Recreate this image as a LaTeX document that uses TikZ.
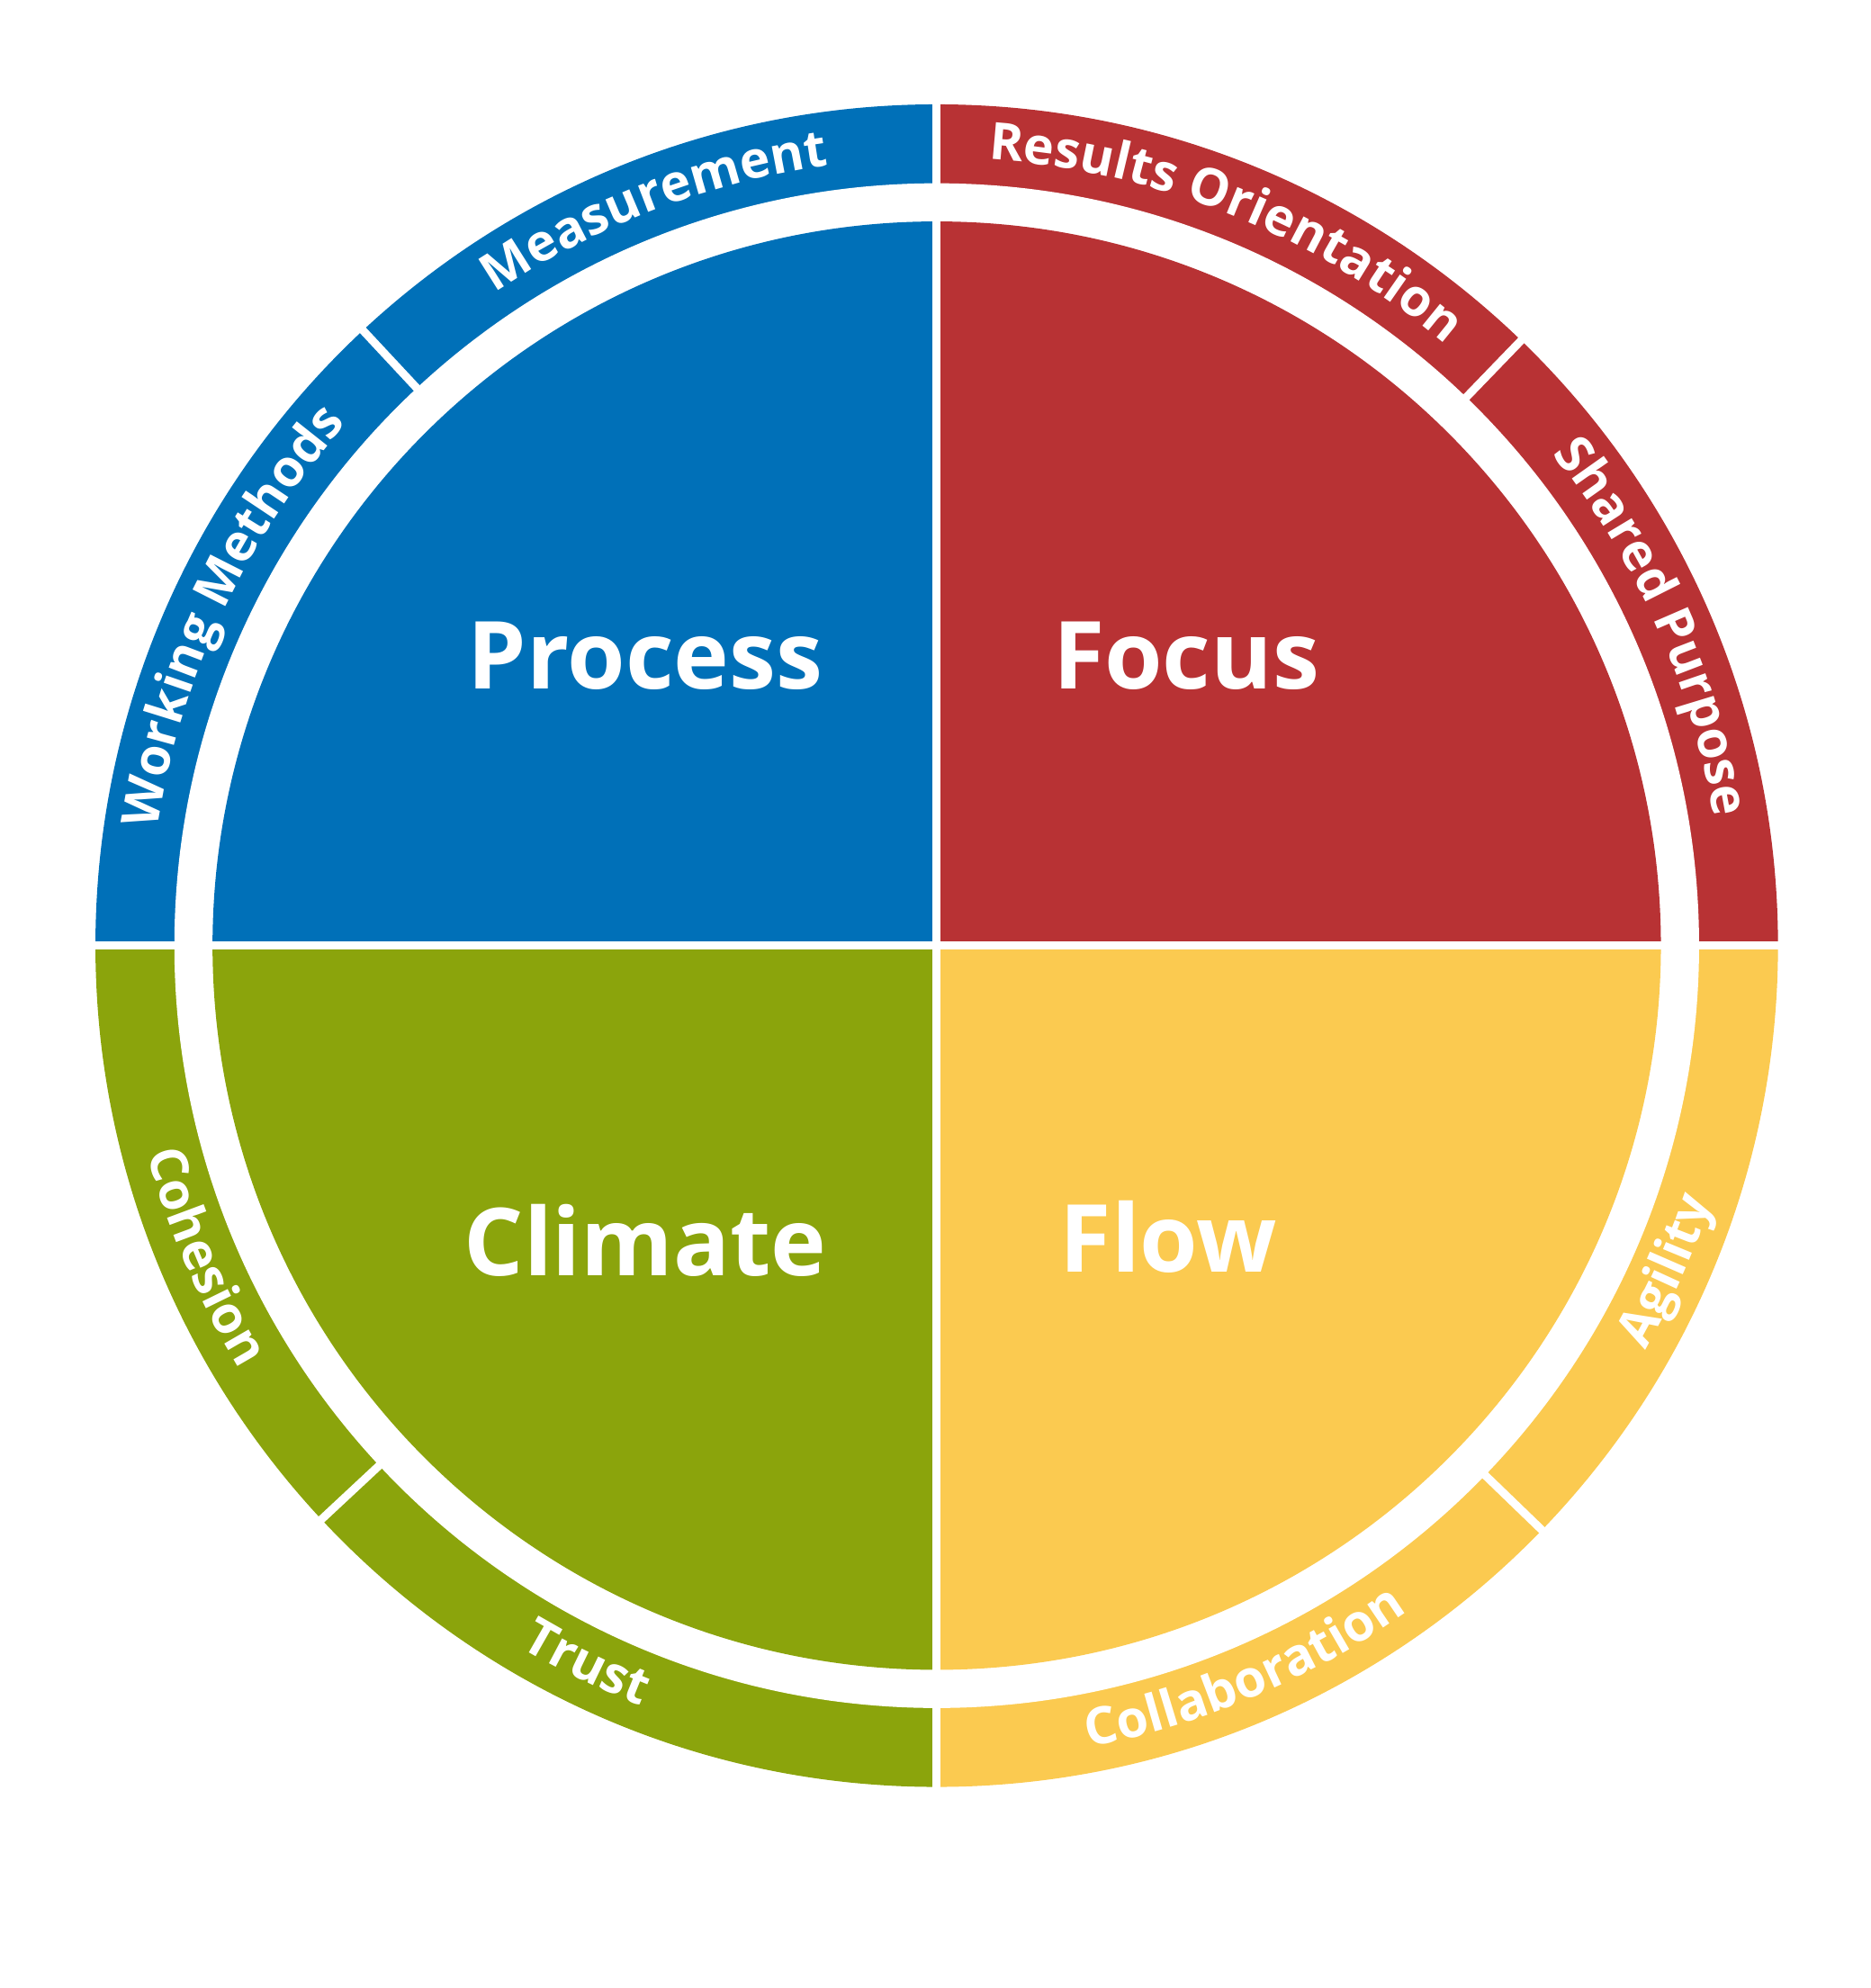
\documentclass[tikz,border=0pt]{standalone}
\usepackage{fontspec}
\setmainfont{Open Sans}
\usetikzlibrary{decorations.text}
\definecolor{cblue}{HTML}{0070B8}
\definecolor{cred}{HTML}{B83234}
\definecolor{cgreen}{HTML}{8BA40C}
\definecolor{cyellow}{HTML}{FBCA50}
\newcommand{\lblfont}{\bfseries\fontsize{23}{23}\selectfont}
\tikzset{
 sep/.style={white,line width=3.6pt},
 toplbl/.style={decorate,decoration={text along path,text align=center,text color=white,text={|\lblfont|#1}}},
 big/.style={text=white,font=\bfseries\fontsize{42}{42}\selectfont}
}
\begin{document}
\begin{tikzpicture}[x=0.02cm,y=0.02cm]
\useasboundingbox (-736,-819) rectangle (734,743);
\coordinate (C) at (0,0);
\fill[cblue] (C) -- (180:661) arc[start angle=180,end angle=90,radius=661] -- cycle;
\fill[cred] (C) -- (90:661) arc[start angle=90,end angle=0,radius=661] -- cycle;
\fill[cyellow] (C) -- (0:661) arc[start angle=0,end angle=-90,radius=661] -- cycle;
\fill[cgreen] (C) -- (270:661) arc[start angle=270,end angle=180,radius=661] -- cycle;
\fill[white] (C) circle[radius=599];
\fill[cblue] (C) -- (180:569) arc[start angle=180,end angle=90,radius=569] -- cycle;
\fill[cred] (C) -- (90:569) arc[start angle=90,end angle=0,radius=569] -- cycle;
\fill[cyellow] (C) -- (0:569) arc[start angle=0,end angle=-90,radius=569] -- cycle;
\fill[cgreen] (C) -- (270:569) arc[start angle=270,end angle=180,radius=569] -- cycle;
\draw[sep] (-670,0) -- (670,0);
\draw[sep] (0,-670) -- (0,670);
\foreach \a in {133,46,223,316} \draw[sep] (\a:595) -- (\a:670);
\path[toplbl=Measurement] (151:619) arc[start angle=151,end angle=71,radius=619];
\path[toplbl=Working Methods] (195:619) arc[start angle=195,end angle=115,radius=619];
\path[toplbl=Results Orientation] (108:619) arc[start angle=108,end angle=28,radius=619];
\path[toplbl=Shared Purpose] (64:619) arc[start angle=64,end angle=-16,radius=619];
\path[toplbl=Cohesion] (163:641) arc[start angle=163,end angle=243,radius=641];
\path[toplbl=Trust] (204:641) arc[start angle=204,end angle=284,radius=641];
\path[toplbl=Collaboration] (253:641) arc[start angle=253,end angle=333,radius=641];
\path[toplbl=Agility] (296:641) arc[start angle=296,end angle=376,radius=641];
\node[big] (process) at (-229,228) {Process};
\node[big] (focus) at (196,228) {Focus};
\node[big] (climate) at (-229,-232) {Climate};
\node[big] (flow) at (182,-229) {Flow};
\end{tikzpicture}
\end{document}
